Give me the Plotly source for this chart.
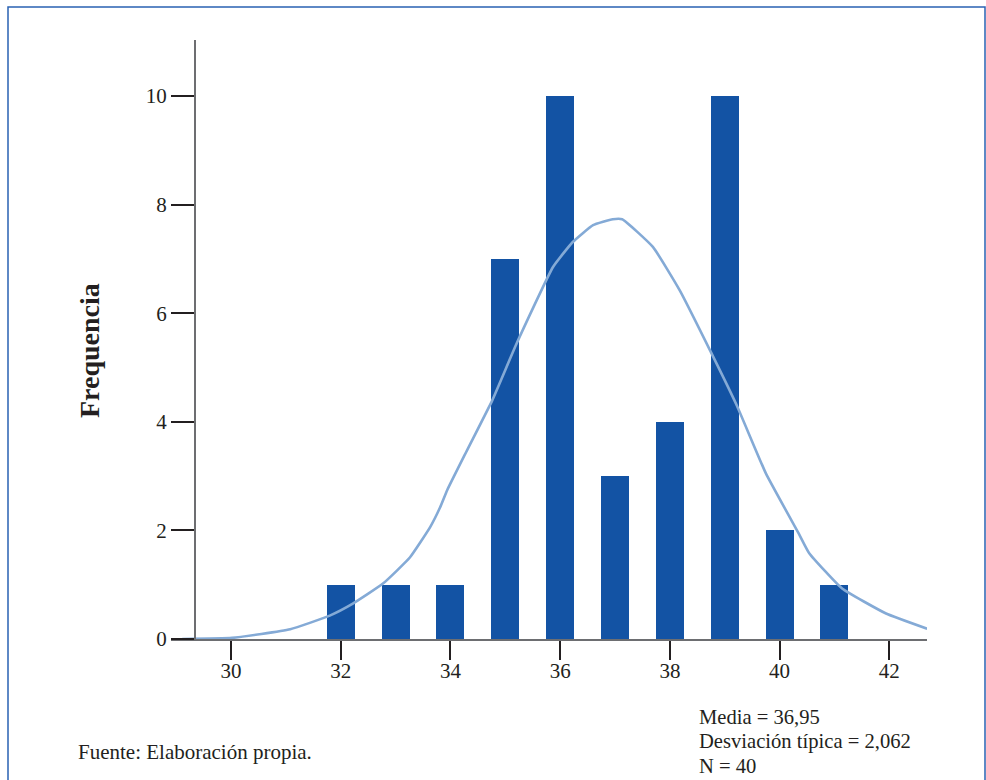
import plotly.graph_objects as go

# Data
edad = [32, 33, 34, 35, 36, 37, 38, 39, 40, 41]
frecuencia = [1, 1, 1, 7, 10, 3, 4, 10, 2, 1]

curva_x = [29.11, 30.02, 31.08, 31.80, 32.22, 32.77, 33.26, 33.63, 33.81, 33.94,
           34.30, 34.76, 35.21, 35.87, 36.23, 36.60, 36.96, 37.13, 37.69, 38.18,
           38.73, 39.22, 39.75, 40.35, 40.54, 41.14, 41.94, 42.69]
curva_y = [0.0, 0.02, 0.18, 0.43, 0.65, 1.02, 1.50, 2.06, 2.42, 2.74,
           3.47, 4.39, 5.45, 6.85, 7.31, 7.62, 7.73, 7.73, 7.22, 6.42,
           5.32, 4.30, 3.05, 1.94, 1.58, 0.93, 0.47, 0.19]

x_ticks = [30, 32, 34, 36, 38, 40, 42]
y_ticks = [0, 2, 4, 6, 8, 10]

stats_lines = ["Media = 36,95", "Desviación típica = 2,062", "N = 40"]
fuente = "Fuente: Elaboración propia."
y_title = "Frequencia"

# Layout geometry (pixels)
W, H = 986, 780
L, R, T, B = 171, 59, 40, 141
PW, PH = W - L - R, H - T - B

def px(xp):
    return (xp - L) / PW

def py(yp):
    return (H - B - yp) / PH

FONT = "Liberation Serif"
BAR = "#1353a4"
CURVE = "#84aad6"
TXT = "#231f20"

fig = go.Figure()
fig.add_trace(go.Bar(x=edad, y=frecuencia, width=0.51, marker=dict(color=BAR, line=dict(width=0)),
                     showlegend=False))
fig.add_trace(go.Scatter(x=curva_x, y=curva_y, mode="lines",
                         line=dict(color=CURVE, width=2.6, shape="spline", smoothing=0.4),
                         showlegend=False, cliponaxis=False))

fig.update_layout(
    width=W, height=H,
    margin=dict(l=L, r=R, t=T, b=B, pad=0),
    paper_bgcolor="white", plot_bgcolor="white",
    font=dict(family=FONT, size=21, color=TXT),
    bargap=0,
    xaxis=dict(range=[28.906, 42.687], tickvals=x_ticks, ticktext=[str(v) for v in x_ticks],
               showline=True, linecolor="#6d6e71", linewidth=2.2, ticks="outside", ticklen=19,
               tickwidth=1.5, tickcolor=TXT, showgrid=False, zeroline=False,
               ticklabelstandoff=-7,
               tickfont=dict(family=FONT, size=21, color=TXT)),
    yaxis=dict(range=[0, 11.03], tickvals=y_ticks, ticktext=[str(v) for v in y_ticks],
               anchor="free", position=(195 - L) / PW,
               showline=True, linecolor="#6d6e71", linewidth=2.2, ticks="outside", ticklen=23,
               tickwidth=1.5, tickcolor=TXT, showgrid=False, zeroline=False,
               tickfont=dict(family=FONT, size=21, color=TXT)),
)

# Frame border
fig.add_shape(type="rect", xref="paper", yref="paper",
              x0=px(8), x1=px(985), y0=py(800), y1=py(7),
              line=dict(color="#2a62b3", width=1.5), fillcolor="rgba(0,0,0,0)", layer="below")

# Axis title
fig.add_annotation(text="<b>" + y_title + "</b>", xref="paper", yref="paper",
                   x=px(90), y=py(351), textangle=-90, showarrow=False,
                   xanchor="center", yanchor="middle",
                   font=dict(family=FONT, size=28, color=TXT))

# Source
fig.add_annotation(text=fuente, xref="paper", yref="paper", x=px(76), y=py(752),
                   xanchor="left", yanchor="middle", showarrow=False,
                   font=dict(family=FONT, size=21, color=TXT))

# Stats
for i, line in enumerate(stats_lines):
    fig.add_annotation(text=line, xref="paper", yref="paper", x=px(697), y=py(717 + 24.5 * i),
                       xanchor="left", yanchor="middle", showarrow=False,
                       font=dict(family=FONT, size=20.6, color=TXT))

fig.write_html("out.html", config={"displayModeBar": False},
               post_script="document.body.style.margin='0px';")
